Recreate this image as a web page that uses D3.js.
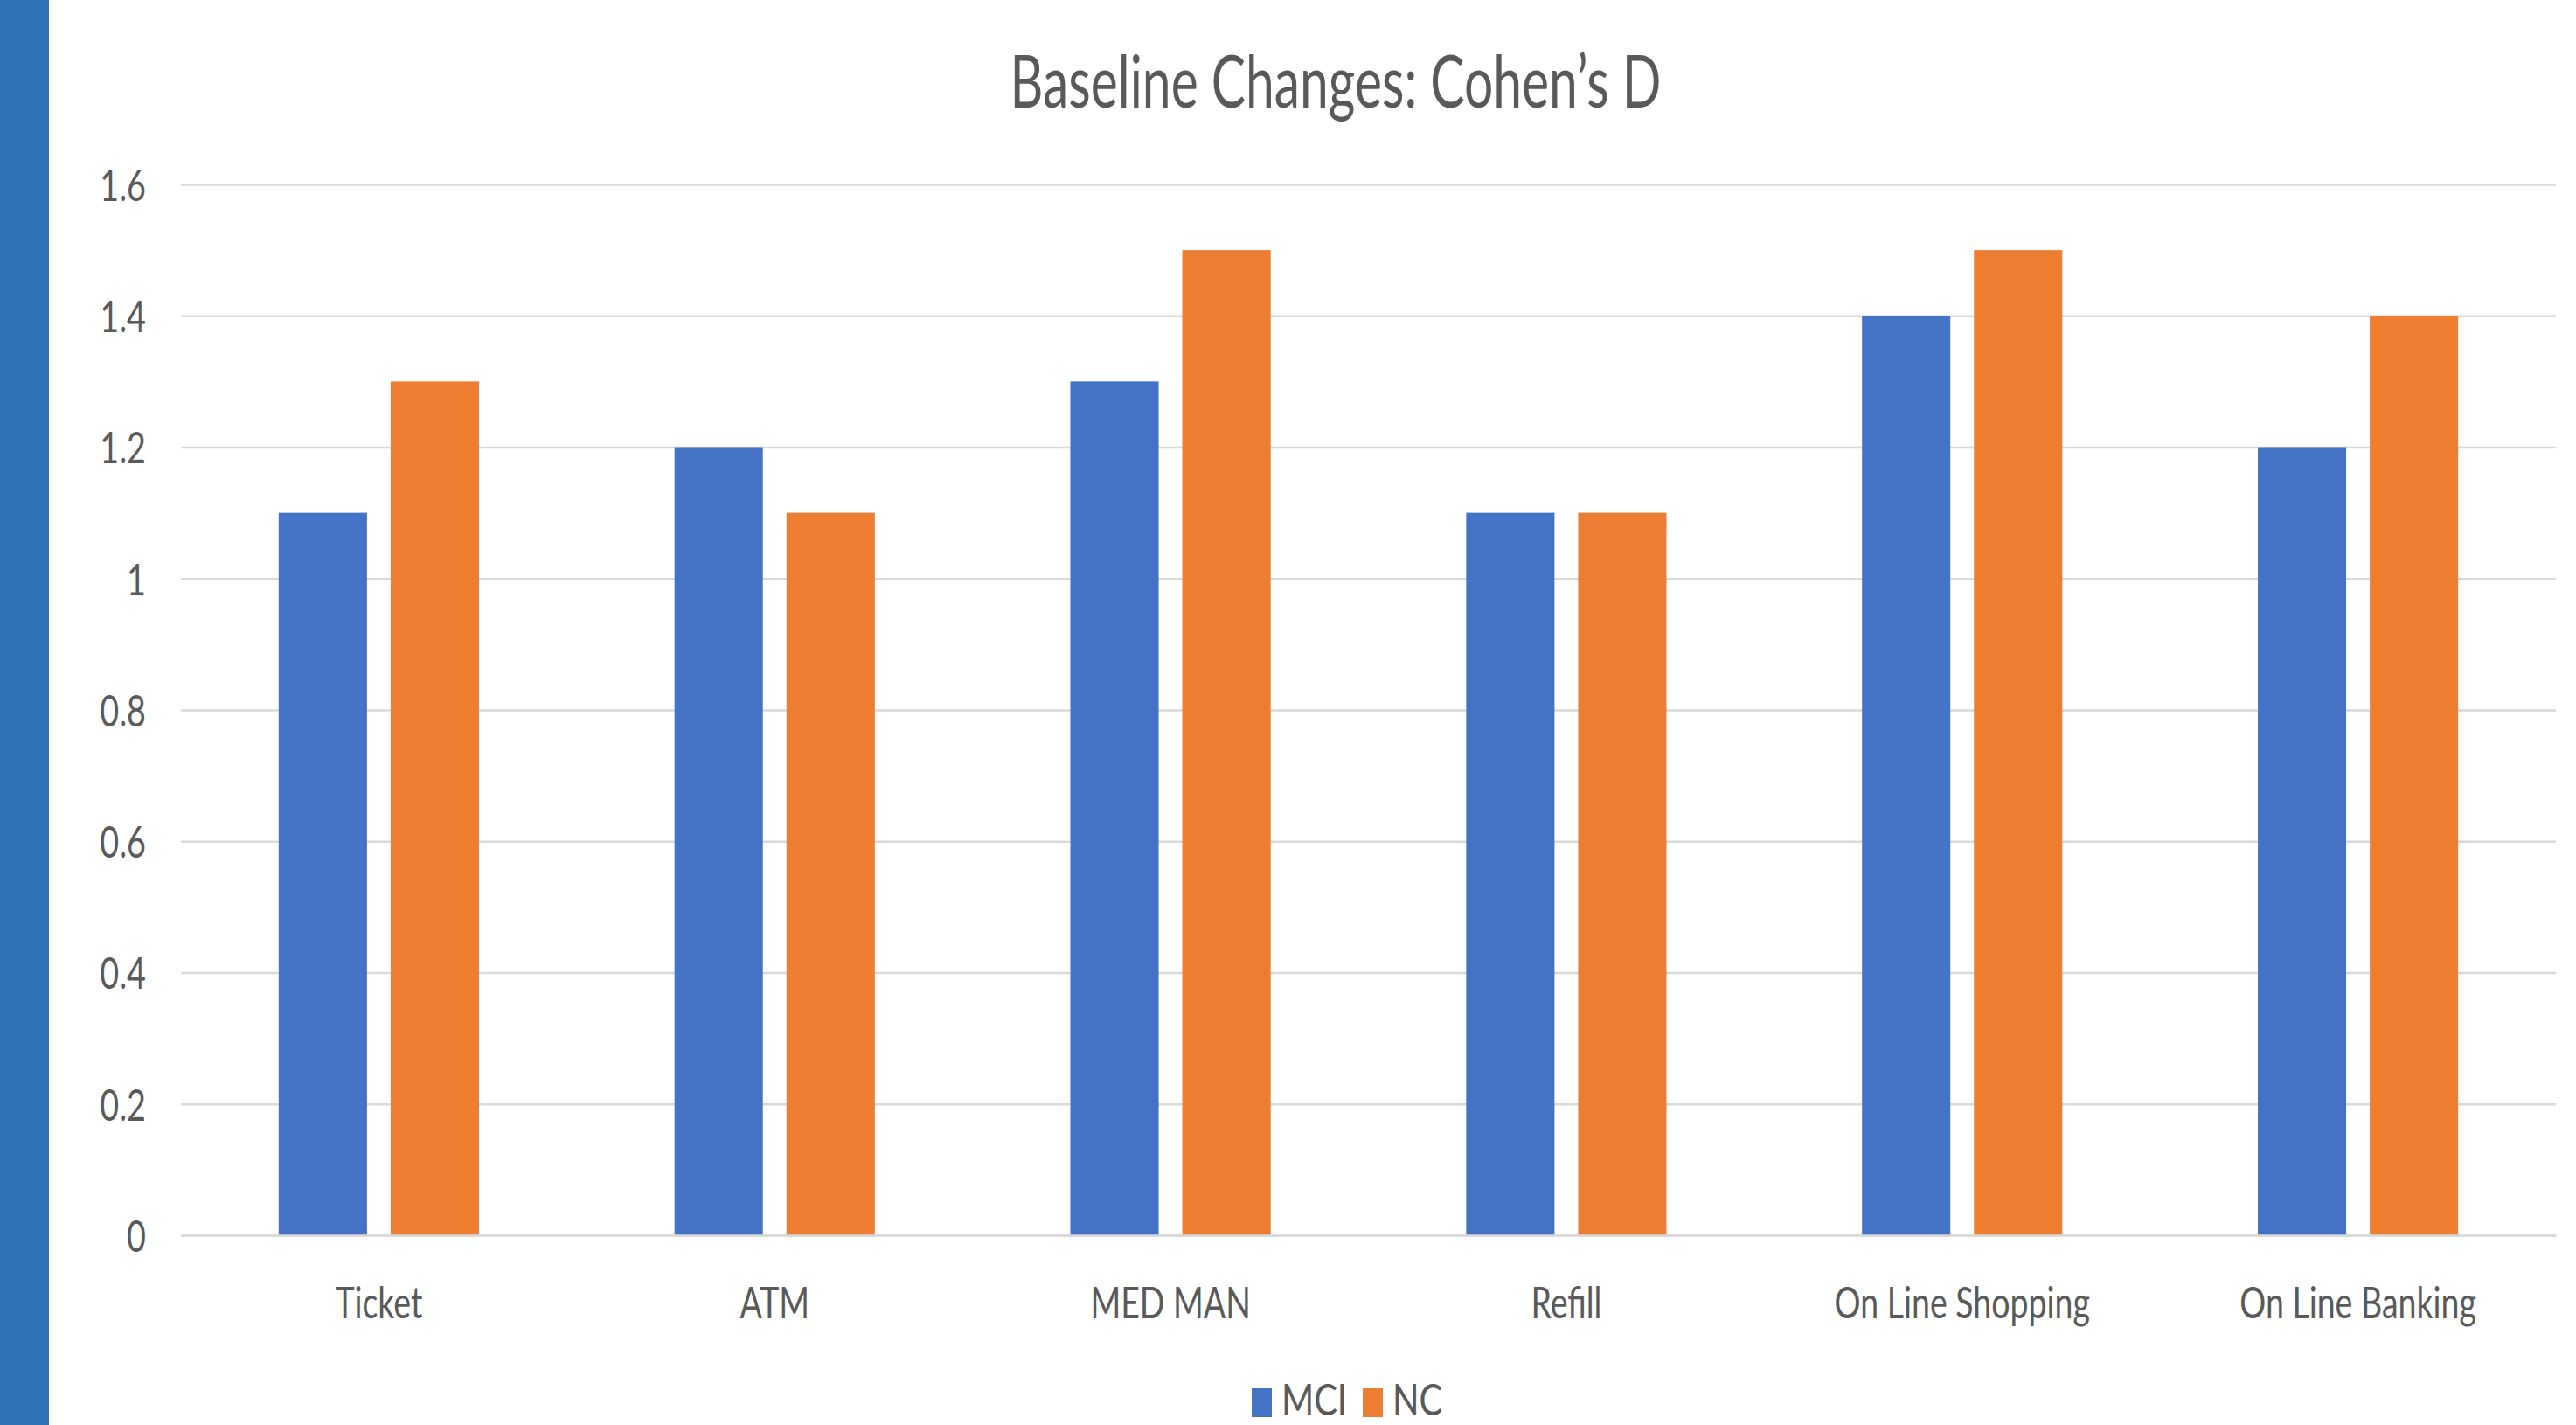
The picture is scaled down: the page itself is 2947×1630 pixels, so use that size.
<!DOCTYPE html>
<html>
<head>
<meta charset="utf-8">
<script src="https://cdn.jsdelivr.net/npm/d3@7"></script>
<style>
  html, body { margin: 0; padding: 0; background: #ffffff; }
  svg { display: block; }
  text { font-family: Lato, "Open Sans", sans-serif; fill: #595959; }
</style>
</head>
<body>
<svg id="chart" width="2947" height="1630"></svg>
<script>
// Chart data
const categories = ["Ticket", "ATM", "MED MAN", "Refill", "On Line Shopping", "On Line Banking"];
const seriesNames = ["MCI", "NC"];
const mciValues = [1.1, 1.2, 1.3, 1.1, 1.4, 1.2];
const ncValues = [1.3, 1.1, 1.5, 1.1, 1.5, 1.4];
const yTicks = [0, 0.2, 0.4, 0.6, 0.8, 1.0, 1.2, 1.4, 1.6];
const yTickLabels = ["0", "0.2", "0.4", "0.6", "0.8", "1", "1.2", "1.4", "1.6"];
const titleText = "Baseline Changes: Cohen\u2019s D";

const colors = { MCI: "#4472C4", NC: "#ED7D31" };
const gridColor = "#d9d9d9";
// horizontal condensing of the lettering
const SX_TITLE = 0.70, SX_TICK = 0.74, SX_CAT = 0.75, SX_LEG = 0.80;

const W = 2947, H = 1630;
const margin = { left: 207, right: 23, top: 211, bottom: 217 };
const plotW = W - margin.left - margin.right;
const plotH = H - margin.top - margin.bottom;

const svg = d3.select("#chart");
svg.append("rect").attr("width", W).attr("height", H).attr("fill", "#ffffff");

// left accent band
svg.append("rect").attr("x", 0).attr("y", 0).attr("width", 56).attr("height", H).attr("fill", "#2E74B5");

const rows = categories.map((c, i) => ({ category: c, MCI: mciValues[i], NC: ncValues[i] }));

const x0 = d3.scaleBand().domain(categories).range([0, plotW])
  .paddingInner(0.494).paddingOuter(0.247);
const x1 = d3.scaleBand().domain(seriesNames).range([0, x0.bandwidth()])
  .paddingInner(0.211).paddingOuter(0);
const y = d3.scaleLinear().domain([0, 1.6]).range([plotH, 0]);

const g = svg.append("g").attr("transform", `translate(${margin.left},${margin.top})`);

// gridlines and value labels
const yAxis = g.append("g").call(
  d3.axisLeft(y).tickValues(yTicks).tickSize(-plotW)
    .tickFormat((d, i) => yTickLabels[i])
);
yAxis.select(".domain").remove();
yAxis.selectAll(".tick line").attr("stroke", gridColor).attr("stroke-width", 2.5);
yAxis.selectAll(".tick text")
  .attr("x", -40 / SX_TICK)
  .attr("dy", "0.36em")
  .attr("transform", `scale(${SX_TICK},1)`)
  .style("font-size", "51px")
  .style("font-family", "Lato, 'Open Sans', sans-serif")
  .attr("fill", "#595959");

// bars
const groups = g.selectAll(".cat").data(rows).join("g")
  .attr("class", "cat")
  .attr("transform", d => `translate(${x0(d.category)},0)`);
groups.selectAll("rect")
  .data(d => seriesNames.map(s => ({ key: s, value: d[s] })))
  .join("rect")
  .attr("x", d => x1(d.key))
  .attr("width", x1.bandwidth())
  .attr("y", d => y(d.value))
  .attr("height", d => y(0) - y(d.value))
  .attr("fill", d => colors[d.key]);

// category axis
const xAxis = g.append("g").attr("transform", `translate(0,${plotH})`)
  .call(d3.axisBottom(x0).tickSize(0).tickPadding(0));
xAxis.select(".domain").attr("stroke", gridColor).attr("stroke-width", 2.5);
xAxis.selectAll(".tick text")
  .attr("y", 95)
  .attr("dy", 0)
  .attr("transform", `scale(${SX_CAT},1)`)
  .style("font-size", "50px")
  .style("font-family", "Lato, 'Open Sans', sans-serif")
  .attr("fill", "#595959");

// title
svg.append("text")
  .attr("transform", `translate(1528,123) scale(${SX_TITLE},1)`)
  .attr("text-anchor", "middle")
  .style("font-size", "84px")
  .text(titleText);

// legend
const legendX = [1432, 1559];
const legend = svg.append("g");
seriesNames.forEach((s, i) => {
  legend.append("rect")
    .attr("x", legendX[i]).attr("y", 1588)
    .attr("width", 23).attr("height", 33)
    .attr("fill", colors[s]);
  legend.append("text")
    .attr("transform", `translate(${legendX[i] + 34},1619) scale(${SX_LEG},1)`)
    .style("font-size", "50px")
    .text(s);
});
</script>
</body>
</html>
